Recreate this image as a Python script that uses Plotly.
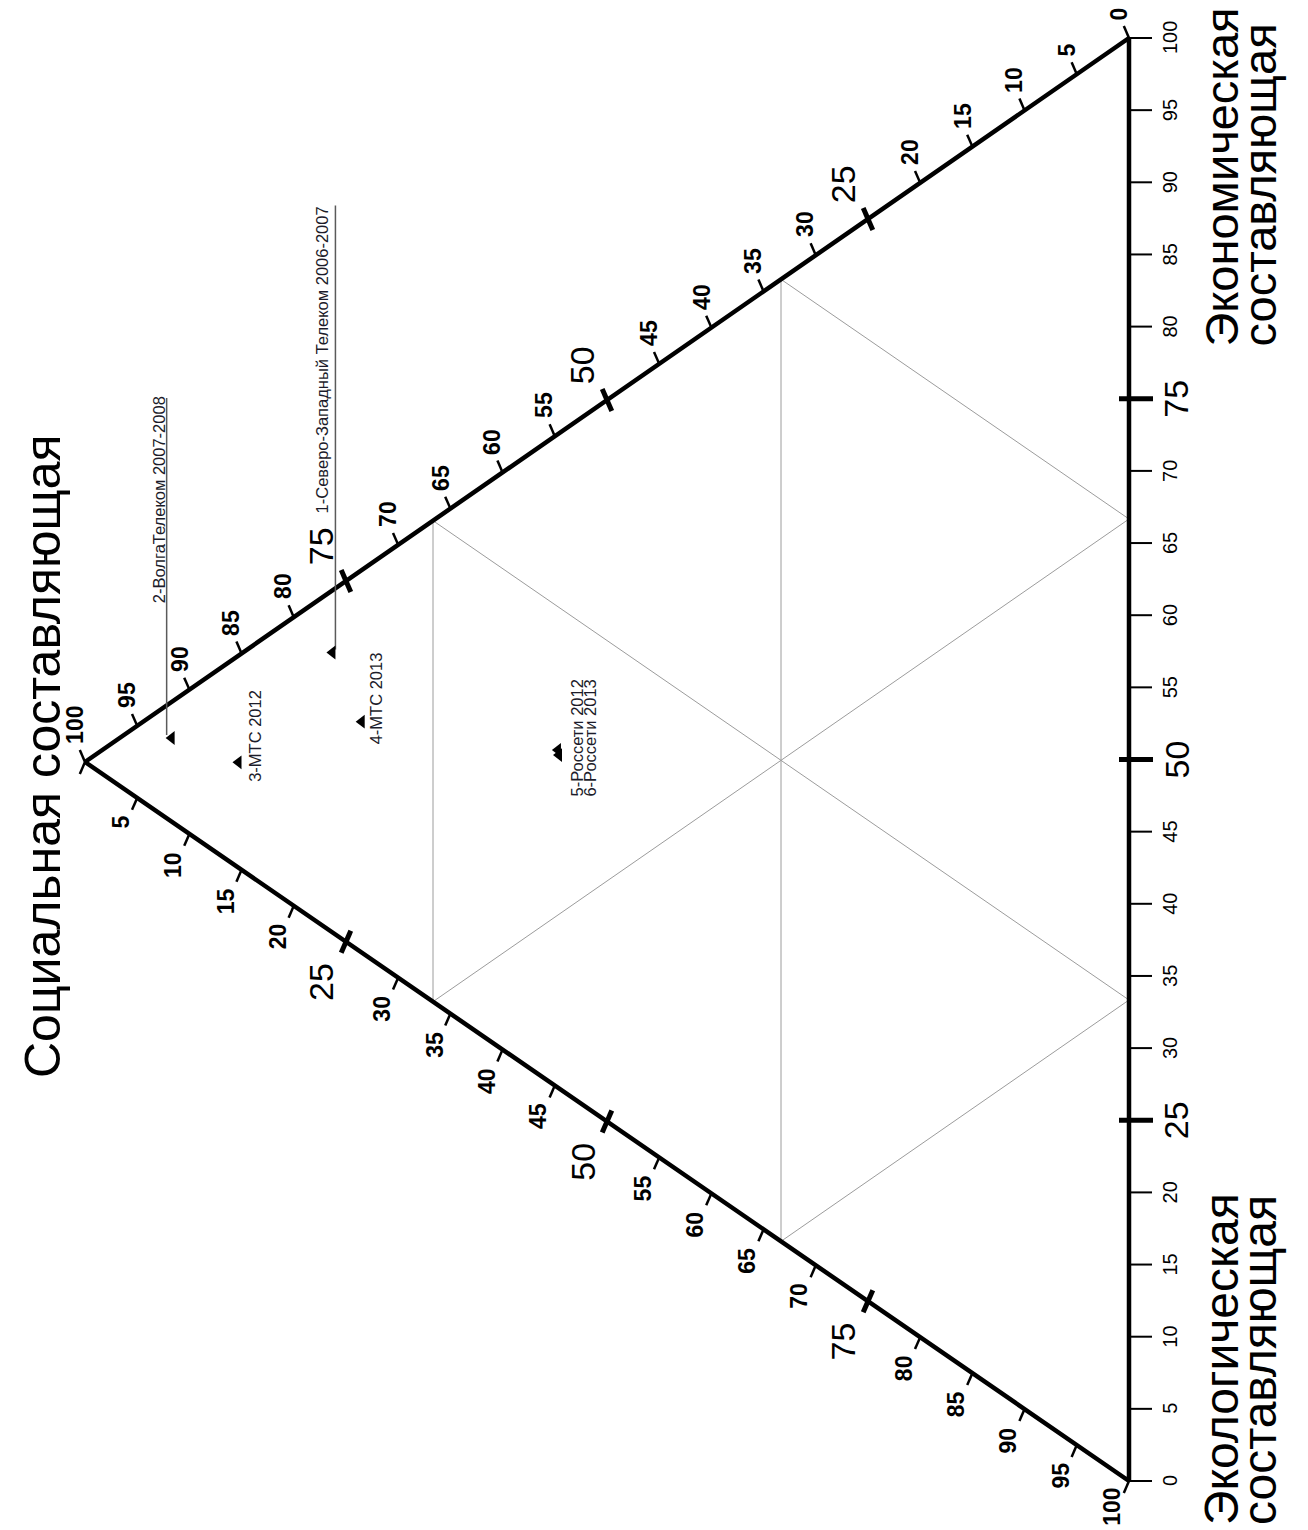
import plotly.graph_objects as go

# ---- data: composition of each case, % (social, economic, ecological) ----
case_labels = [
    "1-Северо-Западный Телеком 2006-2007",
    "2-ВолгаТелеком 2007-2008",
    "3-МТС 2012",
    "4-МТС 2013",
    "5-Россети 2012",
    "6-Россети 2013",
]
social = [76.3, 91.7, 85.3, 73.5, 54.7, 54.6]
economic = [19.4, 5.8, 7.3, 16.0, 23.4, 23.1]
ecological = [4.3, 2.5, 7.4, 10.5, 21.9, 22.3]

tick_values = list(range(0, 101, 5))
major_ticks = [25, 50, 75]
grid_levels = [100 / 3, 200 / 3]

title_social = "Социальная составляющая"
title_economic = ["Экономическая", "составляющая"]
title_ecological = ["Экологическая", "составляющая"]

# ---- layout of the (rotated) triangle on the page ----
W, H = 1308, 1530
V_SOC = (85, 762)     # social = 100
V_ECO = (1129, 38)    # economic = 100
V_ECL = (1129, 1481)  # ecological = 100

FONT = "Liberation Sans, Arial, sans-serif"


def to_xy(s, e, g):
    t = s + e + g
    x = (s * V_SOC[0] + e * V_ECO[0] + g * V_ECL[0]) / t
    y = (s * V_SOC[1] + e * V_ECO[1] + g * V_ECL[1]) / t
    return x, y


def unit(dx, dy):
    n = (dx * dx + dy * dy) ** 0.5
    return dx / n, dy / n


fig = go.Figure()

# light grid at thirds
gx, gy = [], []
for L in grid_levels:
    for a, b in [
        ((L, 100 - L, 0), (L, 0, 100 - L)),
        ((100 - L, L, 0), (0, L, 100 - L)),
        ((100 - L, 0, L), (0, 100 - L, L)),
    ]:
        x0, y0 = to_xy(*a)
        x1, y1 = to_xy(*b)
        gx += [x0, x1, None]
        gy += [y0, y1, None]
fig.add_trace(go.Scatter(x=gx, y=gy, mode="lines", line=dict(color="#9c9c9c", width=1),
                         hoverinfo="skip"))

# triangle frame
corners = [(100, 0, 0), (0, 100, 0), (0, 0, 100), (100, 0, 0)]
fx = [to_xy(*c)[0] for c in corners]
fy = [to_xy(*c)[1] for c in corners]
fig.add_trace(go.Scatter(x=fx, y=fy, mode="lines", line=dict(color="black", width=4.5),
                         hoverinfo="skip"))

# axes: point on edge for a value, tick direction and lengths
axes = [
    dict(name="social", pos=lambda v: (v, 100 - v, 0), d=unit(-0.4, -0.92), minor_len=13,
         major=(12, 12)),
    dict(name="economic", pos=lambda v: (0, v, 100 - v), d=(1.0, 0.0), minor_len=23,
         major=(10, 24)),
    dict(name="ecological", pos=lambda v: (100 - v, 0, v), d=unit(-0.4, 0.92), minor_len=13,
         major=(12, 12)),
]

annotations = []
minor_x, minor_y, right_x, right_y, major_x, major_y = [], [], [], [], [], []
for ax in axes:
    dx, dy = ax["d"]
    for v in tick_values:
        px, py = to_xy(*ax["pos"](v))
        is_major = v in major_ticks
        if is_major:
            back, fwd = ax["major"]
            major_x += [px - back * dx, px + fwd * dx, None]
            major_y += [py - back * dy, py + fwd * dy, None]
            ex, ey = px + fwd * dx, py + fwd * dy
        else:
            ex, ey = px + ax["minor_len"] * dx, py + ax["minor_len"] * dy
            if ax["name"] == "economic":
                right_x += [px, ex, None]
                right_y += [py, ey, None]
            else:
                minor_x += [px, ex, None]
                minor_y += [py, ey, None]

        if is_major:
            font = dict(family=FONT, size=34, color="black")
        elif ax["name"] == "economic":
            font = dict(family=FONT, size=20, color="black")
        else:
            font = dict(family=FONT, size=23, color="black", weight="bold")

        if ax["name"] == "economic":
            annotations.append(dict(x=ex + (5 if not is_major else 2), y=py, text=str(v),
                                    textangle=-90, xanchor="left", yanchor="middle",
                                    showarrow=False, font=font))
        elif ax["name"] == "social":
            annotations.append(dict(x=ex - (20 if is_major else 5), y=ey - (3 if is_major else 4),
                                    text=str(v), textangle=-90, xanchor="center",
                                    yanchor="bottom", showarrow=False, font=font))
        else:
            if v == 0:
                continue  # shares the apex with the social "100"
            if v == 100:
                annotations.append(dict(x=ex - 12, y=H - 2, text=str(v), textangle=-90,
                                        xanchor="center", yanchor="bottom",
                                        showarrow=False, font=font))
                continue
            annotations.append(dict(x=ex - (20 if is_major else 11), y=ey + (8 if is_major else 4),
                                    text=str(v), textangle=-90, xanchor="center",
                                    yanchor="top", showarrow=False, font=font))

fig.add_trace(go.Scatter(x=minor_x, y=minor_y, mode="lines", line=dict(color="black", width=2.5),
                         hoverinfo="skip"))
fig.add_trace(go.Scatter(x=right_x, y=right_y, mode="lines", line=dict(color="black", width=2),
                         hoverinfo="skip"))
fig.add_trace(go.Scatter(x=major_x, y=major_y, mode="lines", line=dict(color="black", width=5),
                         hoverinfo="skip"))

# case markers
pts = [to_xy(s, e, g) for s, e, g in zip(social, economic, ecological)]
px_list = [p[0] for p in pts]
py_list = [p[1] for p in pts]

# leader lines under the two long labels: (x offset, length upward)
leaders = {0: (3, 447), 1: (-5, 340)}
for i, (ox, length) in leaders.items():
    mx, my = pts[i]
    fig.add_trace(go.Scatter(x=[mx + ox, mx + ox], y=[my - 3, my - length], mode="lines",
                             line=dict(color="#5a5a5a", width=1.5), hoverinfo="skip"))

fig.add_trace(go.Scatter(x=px_list, y=py_list, mode="markers", text=case_labels,
                         marker=dict(symbol="triangle-left", size=12, color="black"),
                         hovertemplate="%{text}<extra></extra>"))

# case label placement relative to each marker: (dx of text centre, dy of text start)
label_offsets = [(-10, -137), (-12, -133), (17, 21), (14, 25), (19, 48), (31, 43)]
for (mx, my), lab, (ox, oy) in zip(pts, case_labels, label_offsets):
    annotations.append(dict(x=mx + ox, y=my + oy, text=lab, textangle=-90,
                            xanchor="center", yanchor="bottom", showarrow=False,
                            font=dict(family=FONT, size=16.5, color="#1c1c2a")))

# axis titles
annotations.append(dict(x=43, y=1080, text=title_social, textangle=-90, xanchor="center",
                        yanchor="bottom", showarrow=False,
                        font=dict(family=FONT, size=50, color="black")))
for i, line in enumerate(title_economic):
    annotations.append(dict(x=1221 + 38 * i, y=349, text=line, textangle=-90, xanchor="center",
                            yanchor="bottom", showarrow=False,
                            font=dict(family=FONT, size=47, color="black")))
for i, line in enumerate(title_ecological):
    annotations.append(dict(x=1221 + 38 * i, y=1527, text=line, textangle=-90, xanchor="center",
                            yanchor="bottom", showarrow=False,
                            font=dict(family=FONT, size=48, color="black")))

fig.update_layout(
    width=W, height=H,
    margin=dict(l=0, r=0, t=0, b=0),
    paper_bgcolor="white", plot_bgcolor="white",
    showlegend=False,
    xaxis=dict(range=[0, W], visible=False, fixedrange=True),
    yaxis=dict(range=[H, 0], visible=False, fixedrange=True),
    annotations=annotations,
)

fig.write_html("out.html")
